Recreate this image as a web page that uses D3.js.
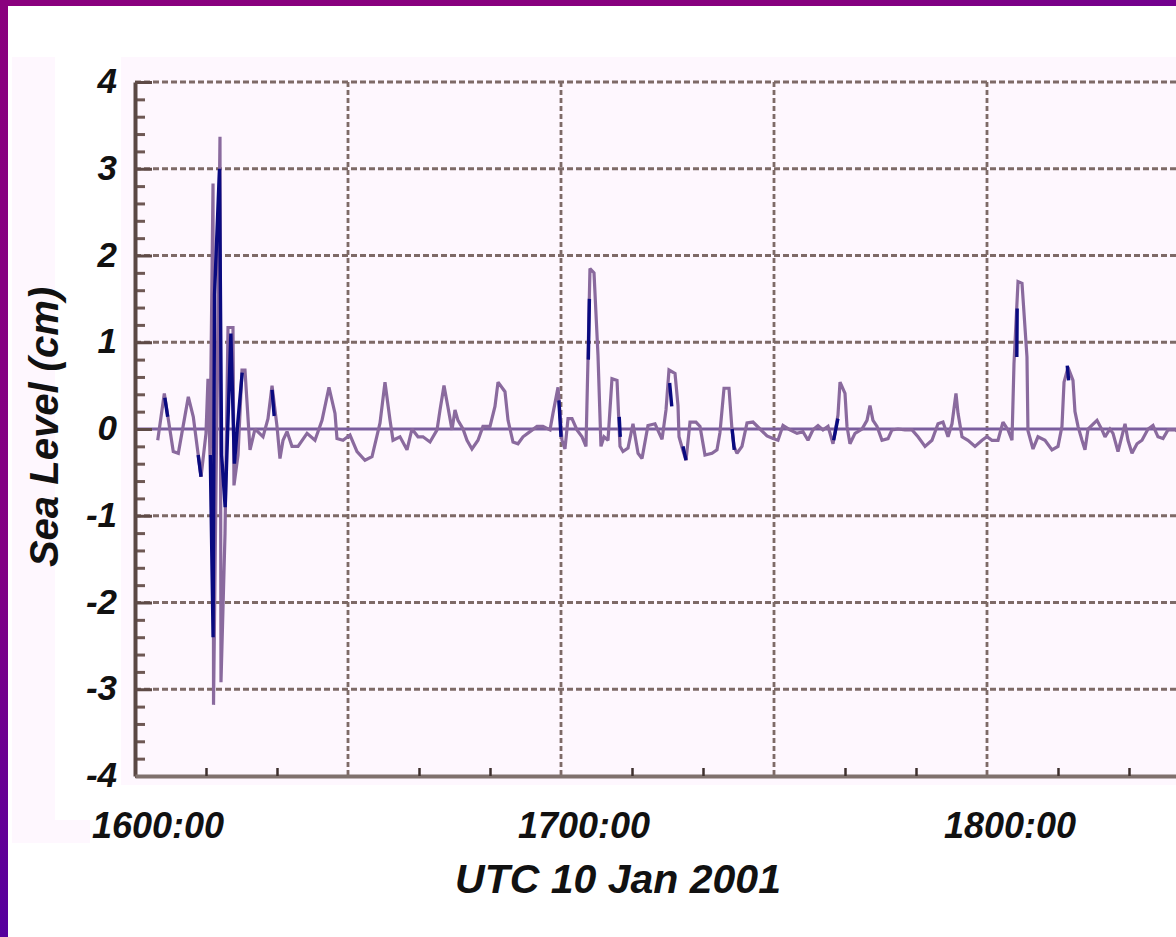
<!DOCTYPE html>
<html>
<head>
<meta charset="utf-8">
<script src="https://cdn.jsdelivr.net/npm/d3@7/dist/d3.min.js"></script>
<style>
  html, body { margin: 0; padding: 0; background: #ffffff; }
  svg { display: block; }
  text { font-family: "Liberation Sans", Arial, sans-serif; font-weight: bold; font-style: italic; fill: #111; }
</style>
</head>
<body>
<svg id="chart" width="1176" height="937"></svg>
<script>
// ---------- data (minutes after 16:00 UTC, sea level in cm) ----------
const minutes = [
  3.20, 4.13, 5.39, 6.10, 7.51, 8.21, 9.30, 10.00, 10.28, 10.56,
  10.99, 11.06, 11.97, 12.11, 12.68, 13.10, 13.80, 13.94, 14.51, 15.07,
  15.49, 16.20, 16.90, 18.03, 18.73, 19.30, 20.00, 20.42, 20.85, 21.41,
  22.11, 22.96, 24.23, 25.35, 26.34, 27.32, 28.17, 28.45, 29.30, 30.28,
  31.27, 32.39, 33.38, 34.51, 35.21, 35.92, 36.34, 37.32, 38.31, 39.01,
  39.86, 40.56, 41.55, 42.54, 42.96, 43.52, 44.08, 44.65, 45.07, 45.49,
  46.20, 46.76, 47.46, 48.31, 49.01, 50.00, 50.70, 51.13, 52.11, 52.54,
  53.24, 53.94, 54.65, 55.63, 56.62, 57.46, 58.45, 58.87, 59.58, 60.14,
  60.56, 60.99, 61.55, 62.25, 62.96, 63.52, 63.80, 64.08, 64.65, 65.21,
  65.63, 66.06, 66.62, 67.18, 67.89, 68.31, 68.73, 69.44, 70.14, 70.85,
  71.41, 72.25, 73.24, 74.23, 74.79, 75.21, 76.06, 76.48, 76.62, 77.18,
  77.61, 78.17, 79.01, 79.58, 80.28, 81.27, 81.97, 82.39, 82.96, 83.66,
  84.08, 84.37, 84.79, 85.49, 86.20, 87.04, 88.03, 89.01, 89.86, 90.56,
  91.27, 92.25, 93.24, 94.08, 94.79, 95.49, 96.20, 96.90, 97.61, 98.31,
  99.01, 99.30, 100.00, 100.28, 100.70, 101.41, 102.39, 103.10, 103.52, 103.94,
  104.51, 105.21, 106.06, 106.62, 107.46, 108.45, 109.44, 110.28, 111.27, 112.25,
  113.10, 113.80, 114.51, 115.07, 115.63, 115.92, 116.48, 117.32, 118.31, 119.30,
  120.00, 120.70, 121.55, 122.25, 122.96, 123.52, 123.80, 124.37, 124.93, 125.63,
  125.77, 126.48, 127.18, 128.17, 129.15, 130.00, 130.56, 130.85, 131.41, 132.11,
  132.39, 132.82, 133.38, 133.80, 134.23, 135.49, 136.20, 136.62, 137.32, 137.75,
  138.45, 139.44, 139.86, 140.42, 141.13, 141.83, 142.68, 143.38, 144.08, 144.79,
  145.49, 146.48, 147.46
];
const seaLevel = [
  -0.13, 0.41, -0.26, -0.28, 0.37, 0.14, -0.55, -0.05, 0.58, -0.30,
  2.83, -3.18, 3.37, -2.92, -1.20, 1.17, 1.17, -0.65, -0.30, 0.68,
  0.68, -0.24, 0.00, -0.09, 0.12, 0.50, 0.03, -0.34, -0.13, -0.03,
  -0.20, -0.20, -0.05, -0.13, 0.10, 0.48, 0.18, -0.11, -0.13, -0.07,
  -0.26, -0.36, -0.32, 0.07, 0.54, 0.10, -0.13, -0.09, -0.24, 0.00,
  -0.09, -0.09, -0.15, -0.01, 0.22, 0.50, 0.25, -0.01, 0.22, 0.10,
  0.00, -0.13, -0.23, -0.13, 0.03, 0.03, 0.26, 0.54, 0.43, 0.10,
  -0.15, -0.17, -0.09, -0.03, 0.03, 0.03, -0.01, 0.18, 0.48, -0.13,
  -0.23, 0.12, 0.12, -0.01, -0.09, -0.20, 0.80, 1.85, 1.80, 0.85,
  -0.20, -0.09, -0.13, 0.58, 0.56, -0.20, -0.26, -0.22, 0.06, -0.28,
  -0.34, 0.04, 0.06, -0.12, 0.22, 0.68, 0.64, 0.27, -0.09, -0.25,
  -0.36, 0.08, 0.08, 0.03, -0.30, -0.28, -0.24, -0.04, 0.47, 0.47,
  0.00, -0.20, -0.28, -0.20, 0.07, 0.08, 0.00, -0.08, -0.11, -0.13,
  0.04, -0.01, -0.05, -0.03, -0.13, -0.01, 0.04, -0.01, 0.03, -0.17,
  0.16, 0.54, 0.41, 0.03, -0.17, -0.05, 0.00, 0.10, 0.27, 0.10,
  0.03, -0.13, -0.11, -0.01, 0.00, -0.01, -0.01, -0.09, -0.20, -0.13,
  0.06, 0.08, -0.09, 0.06, 0.41, 0.18, -0.09, -0.13, -0.20, -0.13,
  -0.09, -0.13, -0.13, 0.08, -0.01, -0.13, 0.75, 1.70, 1.68, 0.83,
  -0.02, -0.23, -0.09, -0.13, -0.24, -0.20, 0.03, 0.54, 0.71, 0.56,
  0.20, 0.03, -0.13, -0.24, 0.00, 0.10, -0.01, -0.09, 0.00, -0.05,
  -0.26, 0.06, -0.13, -0.28, -0.17, -0.13, 0.00, 0.04, -0.09, -0.11,
  -0.01, -0.01, -0.05
];
// second (dark blue) trace, visible only in short pieces (null = gap)
const navyMinutes = [
  4.20, 4.60, null,
  8.90, 9.30, null,
  10.60, 11.00, 11.20, 11.90, 12.20, 12.70, 13.50, 14.00, 14.40, 15.10, null,
  19.30, 19.60, null,
  59.70, 60.00, null,
  63.85, 64.00, null,
  68.20, 68.35, null,
  75.30, 75.60, null,
  77.18, 77.61, null,
  84.10, 84.40, null,
  98.40, 99.00, null,
  124.20, 124.25, null,
  131.30, 131.50
];
const navyLevel = [
  0.36, 0.14, null,
  -0.30, -0.55, null,
  -0.30, -2.40, 1.55, 3.00, -0.30, -0.90, 1.10, -0.40, 0.00, 0.65, null,
  0.45, 0.15, null,
  0.33, -0.09, null,
  0.80, 1.50, null,
  0.14, -0.09, null,
  0.53, 0.26, null,
  -0.20, -0.36, null,
  0.00, -0.24, null,
  -0.13, 0.12, null,
  0.83, 1.39, null,
  0.73, 0.56
];
const yMajorTicks = [-4, -3, -2, -1, 0, 1, 2, 3, 4];
const yTickLabels = ["-4", "-3", "-2", "-1", "0", "1", "2", "3", "4"];
const xLabelMinutes = [0, 60, 120];
const xTickLabels = ["1600:00", "1700:00", "1800:00"];
const xGridMinutes = [30, 60, 90, 120, 150];
const xMinorMinutes = [10, 20, 40, 50, 70, 80, 100, 110, 130, 140];
const yMinorTicks = d3.range(-4, 4.001, 0.2).map(v => +v.toFixed(1)).filter(v => !Number.isInteger(v));
const xTitle = "UTC 10 Jan 2001";
const yTitle = "Sea Level (cm)";

// ---------- layout ----------
const svg = d3.select("#chart");
const W = 1176, H = 937;
const plotLeft = 135, plotTop = 82, plotBottom = 776;
const x = d3.scaleLinear().domain([0, 150]).range([plotLeft, plotLeft + 7.1 * 150]);
const y = d3.scaleLinear().domain([-4, 4]).range([plotBottom, plotTop]);

const defs = svg.append("defs");
const gTop = defs.append("linearGradient").attr("id", "gTop").attr("x1", 0).attr("x2", 1).attr("y1", 0).attr("y2", 0);
gTop.append("stop").attr("offset", "0%").attr("stop-color", "#8a007e");
gTop.append("stop").attr("offset", "70%").attr("stop-color", "#87007f");
gTop.append("stop").attr("offset", "100%").attr("stop-color", "#72008e");
const gLeft = defs.append("linearGradient").attr("id", "gLeft").attr("x1", 0).attr("x2", 0).attr("y1", 0).attr("y2", 1);
gLeft.append("stop").attr("offset", "0%").attr("stop-color", "#8a007e");
gLeft.append("stop").attr("offset", "60%").attr("stop-color", "#820084");
gLeft.append("stop").attr("offset", "100%").attr("stop-color", "#56009e");

svg.append("rect").attr("width", W).attr("height", H).attr("fill", "#ffffff");
// pale pink panels
const pink = "#fef7fe";
svg.append("rect").attr("x", 121).attr("y", 57).attr("width", W - 121).attr("height", 785 - 57).attr("fill", pink);
svg.append("rect").attr("x", 12).attr("y", 57).attr("width", 43).attr("height", 843 - 57).attr("fill", pink);
svg.append("rect").attr("x", 12).attr("y", 820).attr("width", 78).attr("height", 23).attr("fill", pink);

// border
svg.append("rect").attr("x", 0).attr("y", 0).attr("width", W).attr("height", 6).attr("fill", "url(#gTop)");
svg.append("rect").attr("x", 0).attr("y", 0).attr("width", 8).attr("height", H).attr("fill", "url(#gLeft)");

const plot = svg.append("g");

// horizontal dashed grid
plot.selectAll("line.hgrid")
  .data(yMajorTicks.filter(v => v !== -4 && v !== 0))
  .join("line")
  .attr("class", "hgrid")
  .attr("x1", plotLeft).attr("x2", W)
  .attr("y1", d => y(d)).attr("y2", d => y(d))
  .attr("stroke", "#7e6a67").attr("stroke-width", 2.8)
  .attr("stroke-dasharray", "6,3");

// vertical dashed grid
plot.selectAll("line.vgrid")
  .data(xGridMinutes)
  .join("line")
  .attr("class", "vgrid")
  .attr("x1", d => x(d)).attr("x2", d => x(d))
  .attr("y1", plotTop).attr("y2", plotBottom)
  .attr("stroke", "#7e6a67").attr("stroke-width", 2.8)
  .attr("stroke-dasharray", "5,3");

// zero line
plot.append("line")
  .attr("x1", plotLeft).attr("x2", W)
  .attr("y1", y(0)).attr("y2", y(0))
  .attr("stroke", "#7a5e9e").attr("stroke-width", 3);

// data traces
const pts = minutes.map((m, i) => ({ m, v: seaLevel[i] }));
const line = d3.line().x(d => x(d.m)).y(d => y(d.v)).defined(d => d.m != null && d.v != null);
plot.append("path")
  .attr("d", line(pts))
  .attr("fill", "none")
  .attr("stroke", "#8a6a9e")
  .attr("stroke-width", 3.2)
  .attr("stroke-linejoin", "miter")
  .attr("stroke-miterlimit", 2);

const navyPts = navyMinutes.map((m, i) => ({ m, v: navyLevel[i] }));
plot.append("path")
  .attr("d", line(navyPts))
  .attr("fill", "none")
  .attr("stroke", "#0a0a80")
  .attr("stroke-width", 3.4)
  .attr("stroke-linejoin", "miter")
  .attr("stroke-miterlimit", 2);

// y axis: minor ticks
svg.append("g")
  .attr("transform", `translate(${plotLeft},0)`)
  .call(d3.axisLeft(y).tickValues(yMinorTicks).tickSize(-10).tickSizeOuter(0).tickFormat(""))
  .call(g => g.select(".domain").remove())
  .call(g => g.selectAll(".tick line").attr("stroke", "#6e5854").attr("stroke-width", 3));

// y axis: major ticks with labels
svg.append("g")
  .attr("transform", `translate(${plotLeft},0)`)
  .call(d3.axisLeft(y).tickValues(yMajorTicks).tickSize(-17).tickSizeOuter(0).tickPadding(18)
    .tickFormat((d, i) => yTickLabels[i]))
  .call(g => g.attr("font-family", null).attr("font-size", null))
  .call(g => g.select(".domain").attr("stroke", "#5a4844").attr("stroke-width", 4))
  .call(g => g.selectAll(".tick line").attr("stroke", "#5e4a46").attr("stroke-width", 3))
  .call(g => g.selectAll(".tick text")
    .style("font-size", "35px").attr("fill", "#111").attr("dy", "0.3em"));

// x axis: minor ticks (pointing up) and bottom line
svg.append("g")
  .attr("transform", `translate(0,${plotBottom})`)
  .call(d3.axisBottom(x).tickValues(xMinorMinutes).tickSize(-8).tickSizeOuter(0).tickFormat(""))
  .call(g => g.select(".domain").attr("stroke", "#7f716d").attr("stroke-width", 4))
  .call(g => g.selectAll(".tick line").attr("stroke", "#3e302e").attr("stroke-width", 2.5));

// x tick labels
svg.append("g")
  .selectAll("text")
  .data(xLabelMinutes)
  .join("text")
  .attr("x", d => x(d) + 23)
  .attr("y", 838)
  .attr("text-anchor", "middle")
  .style("font-size", "36px")
  .text((d, i) => xTickLabels[i]);

// axis titles
svg.append("text")
  .attr("x", 618).attr("y", 893)
  .attr("text-anchor", "middle")
  .style("font-size", "41px")
  .text(xTitle);

svg.append("text")
  .attr("transform", "translate(58,427) rotate(-90)")
  .attr("text-anchor", "middle")
  .style("font-size", "40px")
  .text(yTitle);
</script>
</body>
</html>
